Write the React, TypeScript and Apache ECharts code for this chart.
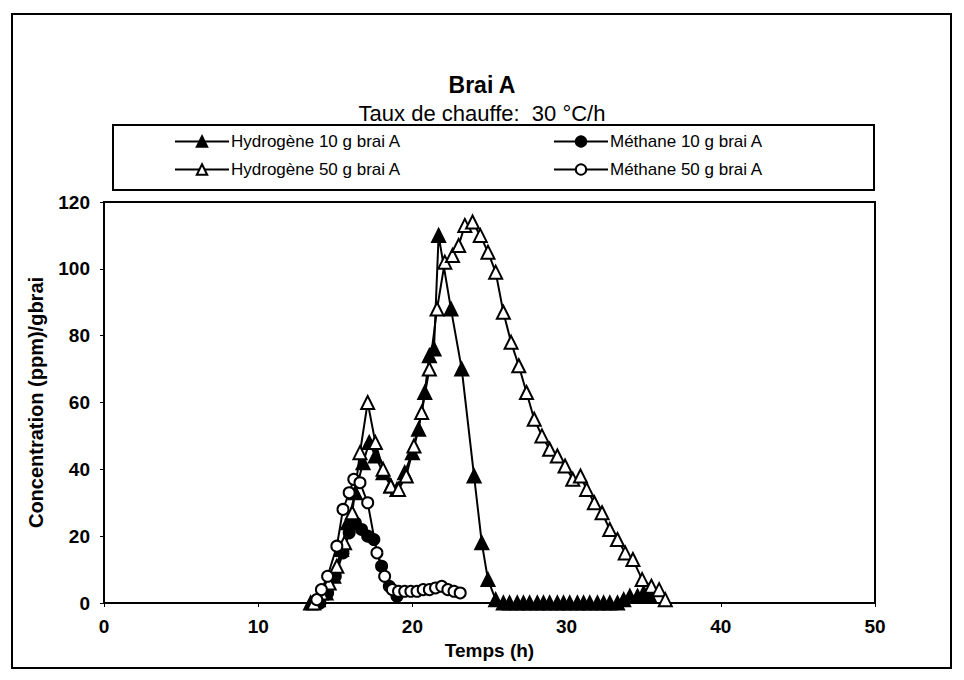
import React, { useEffect, useRef } from "react";
import * as echarts from "echarts";

const FONT = "'Liberation Sans', Arial, sans-serif";

const xTicks = [0, 10, 20, 30, 40, 50];
const yTicks = [0, 20, 40, 60, 80, 100, 120];

const h10Time = [13.4, 13.9, 14.4, 14.9, 15.4, 15.8, 16.3, 16.8, 17.2, 17.6, 18.1, 18.6, 19.0, 19.5, 20.0, 20.4, 20.8, 21.1, 21.4, 21.7, 22.5, 23.2, 24.0, 24.5, 24.9, 25.4, 25.9, 26.3, 26.8, 27.2, 27.6, 28.1, 28.5, 28.9, 29.4, 29.8, 30.2, 30.7, 31.1, 31.5, 32.0, 32.4, 32.8, 33.3, 33.7, 34.1, 34.6, 35.0, 35.4];
const h10Value = [0, 1, 3, 8, 16, 24, 33, 42, 48, 44, 39, 35, 34, 39, 45, 52, 63, 74, 76, 110, 88, 70, 38, 18, 7, 1, 0, 0, 0, 0, 0, 0, 0, 0, 0, 0, 0, 0, 0, 0, 0, 0, 0, 0, 1, 2, 2, 3, 2];

const m10Time = [14.0, 14.5, 15.0, 15.5, 15.9, 16.3, 16.7, 17.1, 17.5, 18.0, 18.5, 19.0];
const m10Value = [0, 3, 8, 15, 21, 24, 22, 20, 19, 11, 5, 2];

const h50Time = [13.6, 14.1, 14.6, 15.1, 15.6, 16.1, 16.6, 17.1, 17.6, 18.1, 18.6, 19.1, 19.6, 20.1, 20.6, 21.1, 21.6, 22.1, 22.6, 23.0, 23.4, 23.9, 24.4, 24.9, 25.4, 25.9, 26.4, 26.9, 27.4, 27.9, 28.4, 28.9, 29.4, 29.9, 30.4, 30.9, 31.3, 31.8, 32.3, 32.8, 33.3, 33.8, 34.3, 34.9, 35.5, 36.0, 36.4];
const h50Value = [0, 3, 6, 11, 18, 27, 45, 60, 48, 40, 35, 34, 38, 47, 57, 70, 88, 102, 104, 107, 113, 114, 110, 105, 99, 87, 78, 71, 63, 55, 50, 46, 44, 41, 37, 38, 34, 30, 27, 22, 19, 15, 13, 7, 5, 4, 1];

const m50Time = [13.8, 14.1, 14.5, 15.1, 15.5, 15.9, 16.2, 16.6, 17.1, 17.7, 18.2, 18.7, 19.1, 19.5, 19.9, 20.3, 20.7, 21.1, 21.5, 21.9, 22.3, 22.7, 23.1];
const m50Value = [1, 4, 8, 17, 28, 33, 37, 36, 30, 15, 8, 4, 3.5, 3.5, 3.5, 3.5, 4, 4, 4.5, 5, 4, 3.5, 3];

const seriesNames = [
  "Hydrogène 10 g brai A",
  "Méthane 10 g brai A",
  "Hydrogène 50 g brai A",
  "Méthane 50 g brai A",
];

const pairs = (t: number[], v: number[]) => t.map((x, i) => [x, v[i]]);

export default function App() {
  const ref = useRef<HTMLDivElement>(null);
  useEffect(() => {
    if (!ref.current) return;
    const chart = echarts.init(ref.current, undefined, { renderer: "svg" });
    const legendText = { fontSize: 17, fontFamily: FONT, color: "#000", padding: [0, 0, 0, -3] };
    const mkLegend = (name: string, left: number, top: number) => ({
      data: [name],
      left,
      top,
      padding: 0,
      itemWidth: 54,
      itemHeight: 13,
      itemGap: 0,
      textStyle: legendText,
    });
    const lineSeries = (
      name: string,
      data: number[][],
      symbol: string,
      filled: boolean,
      size: number
    ) => ({
      name,
      type: "line",
      data,
      symbol,
      symbolSize: size,
      lineStyle: { color: "#000", width: 2 },
      itemStyle: {
        color: filled ? "#000" : "#fff",
        borderColor: "#000",
        borderWidth: 2,
      },
      emphasis: { disabled: true },
    });
    chart.setOption({
      animation: false,
      backgroundColor: "#fff",
      title: [
        {
          text: "Brai A",
          left: "center",
          top: 68,
          textStyle: { fontSize: 23, fontWeight: "bold", fontFamily: FONT, color: "#000" },
        },
        {
          text: "Taux de chauffe:  30 °C/h",
          left: "center",
          top: 97,
          textStyle: { fontSize: 22, fontWeight: "normal", fontFamily: FONT, color: "#000" },
        },
      ],
      legend: [
        mkLegend(seriesNames[0], 174, 133),
        mkLegend(seriesNames[1], 553, 133),
        mkLegend(seriesNames[2], 174, 161),
        mkLegend(seriesNames[3], 553, 161),
      ],
      graphic: [
        {
          type: "rect",
          shape: { x: 12, y: 14, width: 939, height: 654 },
          style: { fill: "none", stroke: "#000", lineWidth: 2 },
          silent: true,
        },
        {
          type: "rect",
          shape: { x: 113, y: 125, width: 761, height: 65 },
          style: { fill: "none", stroke: "#000", lineWidth: 2 },
          silent: true,
        },
      ],
      grid: {
        left: 104,
        top: 202,
        width: 771,
        height: 401,
        show: true,
        borderColor: "#000",
        borderWidth: 2,
        backgroundColor: "transparent",
      },
      xAxis: {
        type: "value",
        min: xTicks[0],
        max: xTicks[xTicks.length - 1],
        interval: 10,
        name: "Temps (h)",
        nameLocation: "middle",
        nameGap: 34,
        nameTextStyle: { fontSize: 19, fontWeight: "bold", fontFamily: FONT, color: "#000" },
        axisLine: { lineStyle: { color: "#000", width: 2 } },
        axisTick: { show: true, length: 4, lineStyle: { color: "#000" } },
        axisLabel: { fontSize: 19, fontWeight: "bold", fontFamily: FONT, color: "#000", margin: 14 },
        splitLine: { show: false },
      },
      yAxis: {
        type: "value",
        min: yTicks[0],
        max: yTicks[yTicks.length - 1],
        interval: 20,
        name: "Concentration (ppm)/gbrai",
        nameLocation: "middle",
        nameGap: 58,
        nameTextStyle: { fontSize: 20, fontWeight: "bold", fontFamily: FONT, color: "#000" },
        axisLine: { show: true, lineStyle: { color: "#000", width: 2 } },
        axisTick: { show: true, length: 4, lineStyle: { color: "#000" } },
        axisLabel: { fontSize: 19, fontWeight: "bold", fontFamily: FONT, color: "#000", margin: 14 },
        splitLine: { show: false },
      },
      series: [
        lineSeries(seriesNames[0], pairs(h10Time, h10Value), "triangle", true, 13),
        lineSeries(seriesNames[1], pairs(m10Time, m10Value), "circle", true, 11),
        lineSeries(seriesNames[2], pairs(h50Time, h50Value), "triangle", false, 13),
        lineSeries(seriesNames[3], pairs(m50Time, m50Value), "circle", false, 11),
      ],
    });
    return () => chart.dispose();
  }, []);
  return (
    <div
      ref={ref}
      style={{ position: "fixed", left: 0, top: 0, width: 964, height: 680, background: "#fff" }}
    />
  );
}
